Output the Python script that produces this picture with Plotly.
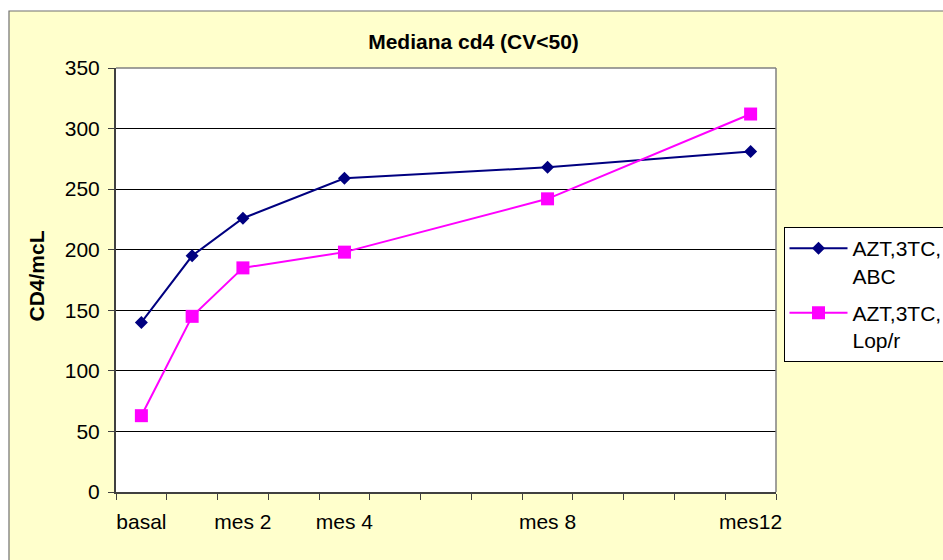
import plotly.graph_objects as go

# ---- data ----
months = [0, 1, 2, 4, 8, 12]
abc_values = [140, 195, 226, 259, 268, 281]
lop_values = [63, 145, 185, 198, 242, 312]
tick_months = [0, 2, 4, 8, 12]
tick_labels = ["basal", "mes 2", "mes 4", "mes 8", "mes12"]
series_names = ["AZT,3TC,<br>ABC", "AZT,3TC,<br>Lop/r"]
y_ticks = [0, 50, 100, 150, 200, 250, 300, 350]

FONT = "Liberation Sans, Arial, sans-serif"
FS = 21
W, H = 943, 560
ML, MR, MT, MB = 116, 167, 68, 68
PW, PH = W - ML - MR, H - MT - MB


def px_x(px):
    return (px - ML) / PW


def px_y(py):
    return (H - MB - py) / PH


fig = go.Figure()
fig.add_trace(go.Scatter(
    x=months, y=abc_values, name=series_names[0], legendgroup="a",
    mode="lines+markers",
    line=dict(color="#000080", width=2),
    marker=dict(symbol="diamond", size=10, color="#000080"),
))
fig.add_trace(go.Scatter(
    x=months, y=lop_values, name=series_names[1], legendgroup="b",
    mode="lines+markers",
    line=dict(color="#FF00FF", width=2),
    marker=dict(symbol="square", size=13, color="#FF00FF"),
))

shapes = [
    # yellow chart area with gray border
    dict(type="rect", xref="paper", yref="paper", layer="below",
         x0=px_x(9), x1=px_x(W + 20), y0=px_y(H + 20), y1=px_y(11),
         fillcolor="#FFFFCC", line=dict(color="#707070", width=1.2)),
    # white plot area
    dict(type="rect", xref="paper", yref="paper", layer="below",
         x0=0, x1=1, y0=0, y1=1, fillcolor="#FFFFFF", line=dict(width=0)),
    # gray top and right border of plot area
    dict(type="line", xref="paper", yref="paper", layer="above",
         x0=0, x1=1, y0=1, y1=1, line=dict(color="#808080", width=1.5)),
    dict(type="line", xref="paper", yref="paper", layer="above",
         x0=1, x1=1, y0=0, y1=1, line=dict(color="#808080", width=1.5)),
]

fig.update_layout(
    width=W, height=H,
    margin=dict(l=ML, r=MR, t=MT, b=MB, autoexpand=False),
    paper_bgcolor="#FFFFFF",
    plot_bgcolor="#FFFFFF",
    font=dict(family=FONT, size=FS, color="#000000"),
    title=dict(text="<b>Mediana cd4 (CV<50)</b>", xref="container", yref="container",
               x=473.5 / W, y=1 - 42 / H, xanchor="center", yanchor="middle",
               font=dict(family=FONT, size=FS, color="#000000")),
    shapes=shapes,
    annotations=[dict(text="<b>CD4/mcL</b>", xref="paper", yref="paper",
                      x=px_x(35.5), y=px_y(276), textangle=-90,
                      showarrow=False, xanchor="center", yanchor="middle",
                      font=dict(family=FONT, size=FS, color="#000000"))],
    showlegend=True,
    legend=dict(x=px_x(783.5), y=px_y(227), xanchor="left", yanchor="top",
                bgcolor="#FFFFFF", bordercolor="#000000", borderwidth=1,
                font=dict(family=FONT, size=FS, color="#000000"),
                valign="top", itemwidth=58, tracegroupgap=7,
                traceorder="grouped"),
    xaxis=dict(
        range=[-0.5, 12.5], tickmode="array", tickvals=tick_months, ticktext=tick_labels,
        ticks="", showgrid=False, zeroline=False,
        showline=True, linecolor="#404040", linewidth=2,
        ticklabelstandoff=10,
        tickfont=dict(family=FONT, size=FS, color="#000000"),
        minor=dict(tickmode="array", tickvals=[i - 0.5 for i in range(14)],
                   ticks="outside", ticklen=6, tickcolor="#404040", tickwidth=1,
                   showgrid=False),
    ),
    yaxis=dict(
        range=[0, 350], tickmode="array", tickvals=y_ticks,
        ticks="outside", ticklen=6, tickcolor="#404040", tickwidth=1,
        showgrid=True, gridcolor="#000000", gridwidth=1, zeroline=False,
        showline=True, linecolor="#404040", linewidth=2,
        ticklabelstandoff=4,
        tickfont=dict(family=FONT, size=FS, color="#000000"),
    ),
)

fig.write_html("out.html")
